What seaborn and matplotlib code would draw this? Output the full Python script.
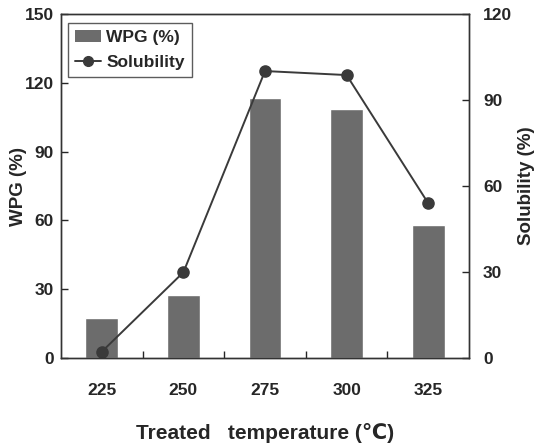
import matplotlib
matplotlib.use("Agg")
import matplotlib.pyplot as plt
import seaborn as sns
import pandas as pd
from matplotlib.patches import Patch
from matplotlib.lines import Line2D

temperatures = ["225", "250", "275", "300", "325"]
wpg = [17.3, 27.5, 113.2, 108.4, 58.0]
solubility = [2.2, 29.9, 100.1, 98.7, 54.0]
left_ticks = [0, 30, 60, 90, 120, 150]
right_ticks = [0, 30, 60, 90, 120]

df = pd.DataFrame({"temp": temperatures, "wpg": wpg, "sol": solubility})

sns.set_style("white")
plt.rcParams['font.family'] = ['Liberation Sans', 'DejaVu Sans']
plt.rcParams['font.weight'] = 'bold'

tick_size = 12.5

fig = plt.figure(figsize=(5.35, 4.48), dpi=100)
ax = fig.add_axes([61/535, 1-358/448, (469-61)/535, (358-14)/448])

bar_color = "#6c6c6c"
line_color = "#3a3a3a"

sns.barplot(data=df, x="temp", y="wpg", color=bar_color, width=0.4,
            saturation=1, ax=ax, order=temperatures)
ax.set_xlim(-0.5, 4.5)
ax.set_ylim(0, 150)
ax.set_yticks(left_ticks)
ax.set_yticklabels([str(t) for t in left_ticks], fontsize=tick_size, fontweight='bold')
ax.set_xticks(range(5))
ax.set_xticklabels(temperatures, fontsize=tick_size, fontweight='bold')
ax.tick_params(axis='x', length=0, pad=18)
ax.tick_params(axis='y', direction='in', length=5, width=1, pad=5, left=True)
ax.set_xticks([0.5, 1.5, 2.5, 3.5], minor=True)
ax.tick_params(axis='x', which='minor', direction='in', length=5, width=1, bottom=True)
ax.set_xlabel("Treated   temperature (\u2103)", fontsize=15, fontweight='bold')
ax.xaxis.set_label_coords(0.5, -0.188)
ax.set_ylabel("WPG (%)", fontsize=13.5, fontweight='bold')
ax.yaxis.set_label_coords(-0.083, 0.5)

ax2 = ax.twinx()
sns.pointplot(data=df, x="temp", y="sol", color=line_color, markers="o",
              order=temperatures, ax=ax2, markersize=8, linewidth=1.4)
ax2.set_xlim(-0.5, 4.5)
ax2.set_ylim(0, 120)
ax2.set_yticks(right_ticks)
ax2.set_yticklabels([str(t) for t in right_ticks], fontsize=tick_size, fontweight='bold')
ax2.tick_params(axis='y', direction='in', length=5, width=1, pad=10, right=True)
ax2.set_ylabel("Solubility (%)", fontsize=13.5, fontweight='bold')
ax2.yaxis.set_label_coords(1.12, 0.5)
ax2.set_xlabel("")

for a in (ax, ax2):
    for s in a.spines.values():
        s.set_color("#333333")
        s.set_linewidth(1.0)

handles = [Patch(facecolor=bar_color, edgecolor='none'),
           Line2D([0], [0], color=line_color, marker='o', markersize=7, linewidth=1.4)]
leg = ax2.legend(handles, ["WPG (%)", "Solubility"], loc='upper left',
                 bbox_to_anchor=(7/408, 1-9/344), frameon=True, fancybox=False,
                 prop={'size': 12.5, 'weight': 'bold'}, handlelength=1.5,
                 handletextpad=0.3, borderpad=0.4, labelspacing=0.55,
                 borderaxespad=0)
leg.get_frame().set_edgecolor("#333333")
leg.get_frame().set_linewidth(1.0)

fig.savefig("out.png", dpi=100)
